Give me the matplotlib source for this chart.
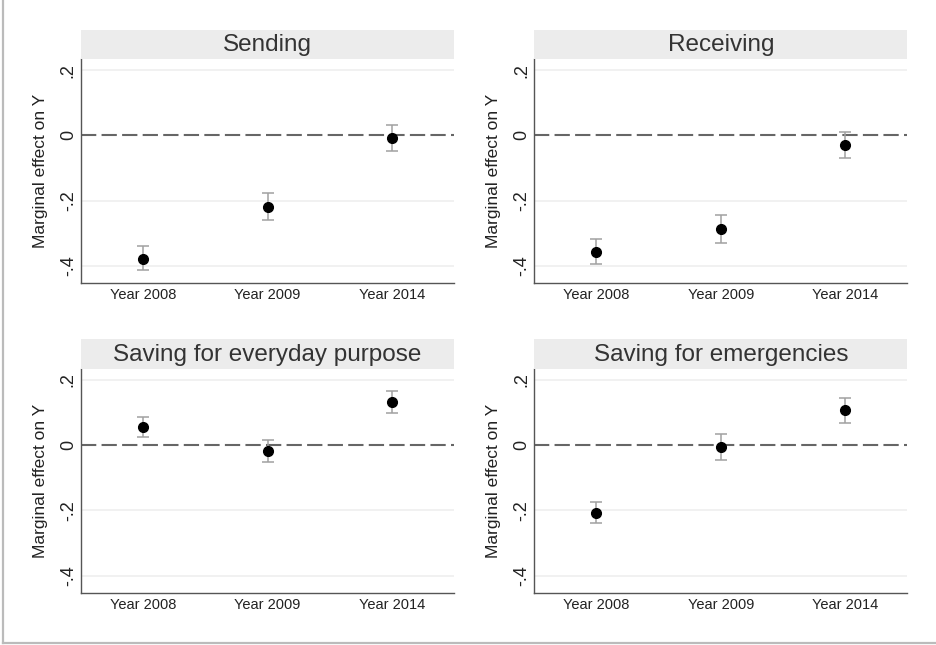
import matplotlib
matplotlib.use("Agg")
import matplotlib.pyplot as plt
from matplotlib.lines import Line2D

plt.rcParams['font.family'] = ['Liberation Sans', 'DejaVu Sans']
plt.rcParams['lines.scale_dashes'] = False

years = ["Year 2008", "Year 2009", "Year 2014"]
titles = ["Sending", "Receiving",
          "Saving for everyday purpose", "Saving for emergencies"]

# point estimates and confidence bounds per panel
est = [
    [-0.377, -0.218, -0.007],
    [-0.356, -0.288, -0.030],
    [0.054, -0.019, 0.132],
    [-0.208, -0.005, 0.107],
]
upper = [
    [-0.340, -0.175, 0.031],
    [-0.318, -0.245, 0.010],
    [0.087, 0.015, 0.167],
    [-0.175, 0.035, 0.145],
]
lower = [
    [-0.413, -0.259, -0.048],
    [-0.394, -0.329, -0.069],
    [0.024, -0.052, 0.097],
    [-0.239, -0.045, 0.068],
]
yticks = [-0.4, -0.2, 0, 0.2]
ytick_labels = ["-.4", "-.2", "0", ".2"]

W, H = 937, 645
fig = plt.figure(figsize=(W / 100, H / 100), dpi=100)

# panel boxes in pixels: (top of strip, top of plot, bottom of plot)
lefts = [81, 534.3]
rows = [(30, 59, 283), (339.3, 368.7, 592.7)]
pw = 373

for k in range(4):
    r, c = divmod(k, 2)
    x0 = lefts[c]
    st, pt, pb = rows[r]
    ax = fig.add_axes([x0 / W, 1 - pb / H, pw / W, (pb - pt) / H])

    # title strip
    sax = fig.add_axes([x0 / W, 1 - pt / H, pw / W, (pt - st) / H])
    sax.set_xticks([]); sax.set_yticks([])
    sax.set_facecolor('#ececec')
    for s in sax.spines.values():
        s.set_visible(False)
    sax.text(0.5, 0.48, titles[k], ha='center', va='center',
             fontsize=17.5, color='#333333', transform=sax.transAxes)

    xs = [1, 2, 3]
    lo_err = [e - l for e, l in zip(est[k], lower[k])]
    hi_err = [u - e for e, u in zip(est[k], upper[k])]

    for y in [0.2, -0.2, -0.4]:
        ax.axhline(y, color='#f0f0f0', lw=1.3, zorder=0)
    ax.axhline(0, color='#666666', lw=1.5, dashes=(11, 3.8), zorder=1)

    ax.errorbar(xs, est[k], yerr=[lo_err, hi_err], fmt='none',
                ecolor='#a0a0a0', elinewidth=1.1, capsize=4.5,
                capthick=1.1, zorder=2)
    ax.plot(xs, est[k], 'o', color='black', markersize=7, zorder=3)

    ax.set_xlim(0.5, 3.5)
    ax.set_ylim(-0.452, 0.234)
    ax.set_xticks(xs)
    ax.set_xticklabels(years, fontsize=10.5, color='#222222')
    ax.set_yticks(yticks)
    ax.set_yticklabels(ytick_labels, fontsize=13, rotation=90,
                       va='center', color='#222222')
    ax.tick_params(axis='both', length=0)
    ax.tick_params(axis='x', pad=3.5)
    ax.tick_params(axis='y', pad=3)
    ax.set_ylabel("Marginal effect on Y", fontsize=12.5, color='#222222')
    ax.yaxis.set_label_coords(-33 / pw, 0.5)

    for side in ['top', 'right']:
        ax.spines[side].set_visible(False)
    for side in ['left', 'bottom']:
        ax.spines[side].set_color('#555555')
        ax.spines[side].set_linewidth(1.0)

# outer frame (left and bottom edges)
fig.add_artist(Line2D([3.5 / W, 3.5 / W], [1 - 643 / H, 1], color='#bbbbbb',
                      lw=1.6, transform=fig.transFigure))
fig.add_artist(Line2D([3.5 / W, 1], [1 - 643 / H, 1 - 643 / H], color='#bbbbbb',
                      lw=1.6, transform=fig.transFigure))

fig.savefig("out.png", dpi=100)
